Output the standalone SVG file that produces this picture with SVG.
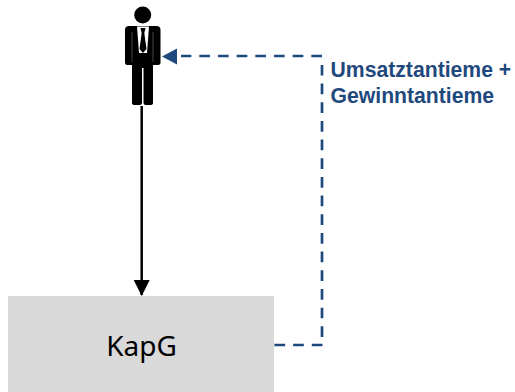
<svg xmlns="http://www.w3.org/2000/svg" width="515" height="392" viewBox="0 0 515 392">
<style>
.lbl{font-family:"Liberation Sans",Arial,sans-serif;font-weight:700;font-size:21.200px;fill:#1f497d}
.dash{fill:none;stroke:#1f497d;stroke-width:2.700;stroke-dasharray:10.700 7.970}
</style>
<defs>
<marker id="ab" markerUnits="userSpaceOnUse" markerWidth="16" markerHeight="17" refX="15" refY="8" orient="auto"><path d="M0 0L16 8L0 16Z" fill="#000"/></marker>
</defs>
<g id="connectors">
<path d="M141.700 106V295" fill="none" stroke="#000" stroke-width="2.500" marker-end="url(#ab)"/>
<path class="dash" d="M322.500 345H274"/>
<path class="dash" d="M322 337V64"/>
<path class="dash" d="M322 56H181"/>
<path d="M162 56.500L177 48.500V64.500Z" fill="#1f497d"/>
</g>
<g id="person">
<circle cx="142.700" cy="15" r="8.500" fill="#000"/>
<path d="M125 30Q125 26 129 26H156.500Q160.500 26 160.500 30V63Q160.500 65 158 65H153V103Q153 105 150 105H146Q143.500 105 143.500 103V68H142V103Q142 105 139.500 105H135Q132 105 132 103V65H127.500Q125 65 125 63Z" fill="#000"/>
<path d="M132 32V62M153 32V62" stroke="#555" stroke-width="0.800"/>
<path d="M137 26.500H149L147 53H139Z" fill="#fff"/>
<path d="M140.500 28H145.500L144.300 33L146.500 49L143 53L139.500 49L141.700 33Z" fill="#000"/>
</g>
<g id="kapg">
<rect x="8" y="296" width="266" height="96" fill="#d9d9d9"/>
<text x="141.500" y="356" text-anchor="middle" font-family="'Noto Sans','Open Sans',sans-serif" font-size="28" fill="#000">KapG</text>
</g>
<g id="label">
<text class="lbl" x="330.500" y="76.500">Umsatztantieme +</text>
<text class="lbl" x="330.500" y="102.500">Gewinntantieme</text>
</g>
</svg>
